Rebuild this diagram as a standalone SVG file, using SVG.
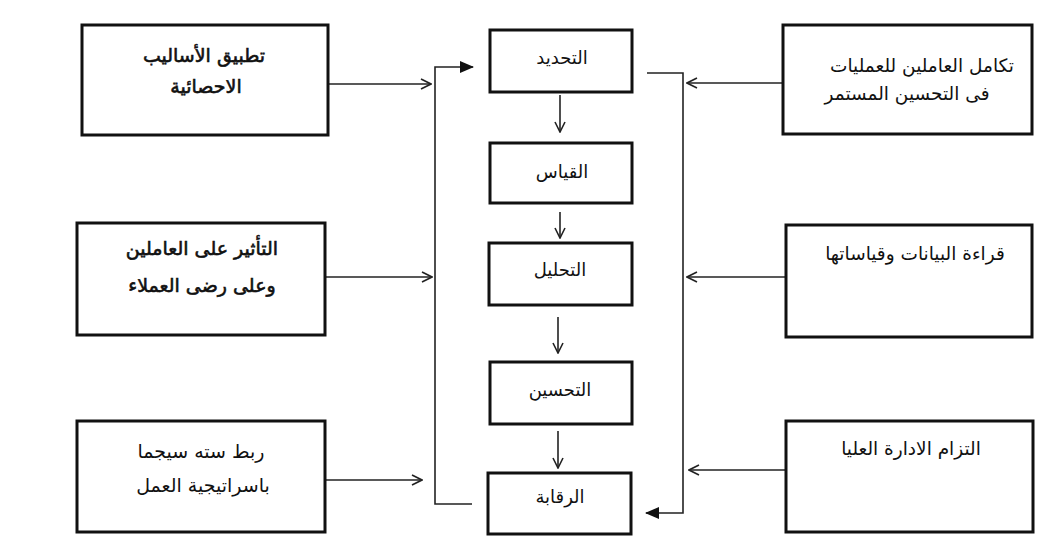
<svg xmlns="http://www.w3.org/2000/svg" width="1059" height="555" viewBox="0 0 1059 555">
<style>
.box{fill:#fff;stroke:#111;stroke-width:3}
.ln{fill:none;stroke:#222;stroke-width:1.6}
.t{font-family:"DejaVu Sans","Noto Sans",sans-serif;fill:#111;text-anchor:middle;direction:rtl}
.b{stroke:#111;stroke-width:0.6}
</style>
<defs>
<marker id="open" viewBox="0 0 12 12" refX="11" refY="6" markerWidth="12" markerHeight="12" markerUnits="userSpaceOnUse" orient="auto">
<path d="M1,1 L11,6 L1,11" fill="none" stroke="#222" stroke-width="1.6"/>
</marker>
<marker id="solid" viewBox="0 0 14 12" refX="13" refY="6" markerWidth="14" markerHeight="12" markerUnits="userSpaceOnUse" orient="auto">
<path d="M0,0 L14,6 L0,12 Z" fill="#111"/>
</marker>
</defs>
<rect width="1059" height="555" fill="#fff"/>
<g id="connectors">
<line class="ln" x1="560" y1="95" x2="560" y2="132" marker-end="url(#open)"/>
<line class="ln" x1="560" y1="212" x2="560" y2="238" marker-end="url(#open)"/>
<line class="ln" x1="558" y1="317" x2="558" y2="353" marker-end="url(#open)"/>
<line class="ln" x1="558" y1="431" x2="558" y2="468" marker-end="url(#open)"/>
<polyline class="ln" points="472,504 435,504 435,67 473,67" marker-end="url(#solid)"/>
<polyline class="ln" points="647,73 683,73 683,513 646,513" marker-end="url(#solid)"/>
<line class="ln" x1="328" y1="84" x2="431" y2="84" marker-end="url(#open)"/>
<line class="ln" x1="325" y1="277" x2="432" y2="277" marker-end="url(#open)"/>
<line class="ln" x1="325" y1="480" x2="422" y2="480" marker-end="url(#open)"/>
<line class="ln" x1="783" y1="83" x2="687" y2="83" marker-end="url(#open)"/>
<line class="ln" x1="786" y1="277" x2="687" y2="277" marker-end="url(#open)"/>
<line class="ln" x1="786" y1="470" x2="689" y2="470" marker-end="url(#open)"/>
</g>
<g id="left1">
<rect class="box" x="82" y="25" width="246" height="110"/>
<text class="t b" x="204" y="62" font-size="19">تطبيق الأساليب</text>
<text class="t b" x="206" y="93" font-size="19">الاحصائية</text>
</g>
<g id="left2">
<rect class="box" x="77" y="223" width="248" height="112"/>
<text class="t b" x="202" y="255" font-size="19">التأثير على العاملين</text>
<text class="t b" x="202" y="292" font-size="19">وعلى رضى العملاء</text>
</g>
<g id="left3">
<rect class="box" x="77" y="421" width="248" height="111"/>
<text class="t" x="201" y="458" font-size="19">ربط سته سيجما</text>
<text class="t" x="203" y="492" font-size="19">باسراتيجية العمل</text>
</g>
<g id="right1">
<rect class="box" x="783" y="25" width="249" height="109"/>
<text class="t" x="922" y="72" font-size="18.5">تكامل العاملين للعمليات</text>
<text class="t" x="907" y="100" font-size="18.5">فى التحسين المستمر</text>
</g>
<g id="right2">
<rect class="box" x="786" y="225" width="246" height="112"/>
<text class="t" x="915" y="260" font-size="18.5">قراءة البيانات وقياساتها</text>
</g>
<g id="right3">
<rect class="box" x="786" y="421" width="247" height="111"/>
<text class="t" x="911" y="455" font-size="18.5">التزام الادارة العليا</text>
</g>
<g id="c1">
<rect class="box" x="490" y="30" width="142" height="62"/>
<text class="t" x="562" y="64" font-size="18">التحديد</text>
</g>
<g id="c2">
<rect class="box" x="490" y="143" width="142" height="60"/>
<text class="t" x="562" y="178" font-size="18">القياس</text>
</g>
<g id="c3">
<rect class="box" x="489" y="243" width="143" height="62"/>
<text class="t" x="560" y="276" font-size="18">التحليل</text>
</g>
<g id="c4">
<rect class="box" x="490" y="362" width="142" height="62"/>
<text class="t" x="560" y="396" font-size="18">التحسين</text>
</g>
<g id="c5">
<rect class="box" x="488" y="473" width="143" height="61"/>
<text class="t" x="560" y="503" font-size="18">الرقابة</text>
</g>
</svg>
